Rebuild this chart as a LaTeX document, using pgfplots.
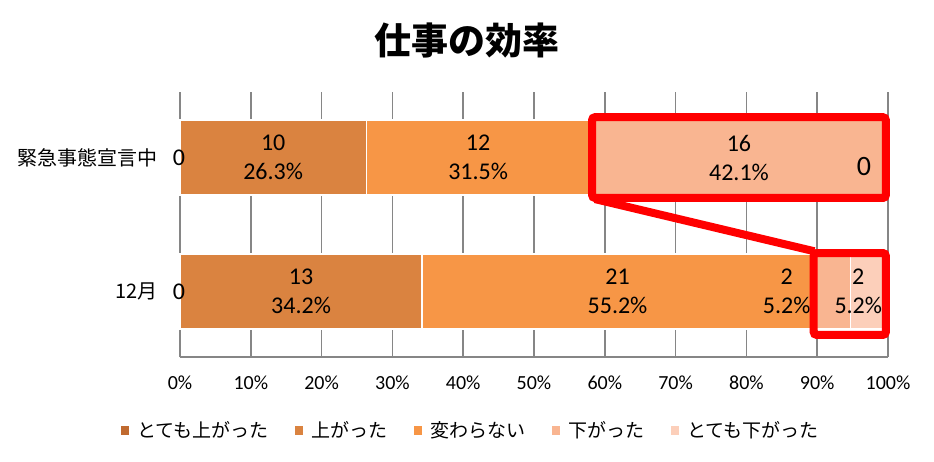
\documentclass[border=0pt]{standalone}
\usepackage{pgfplots}
\pgfplotsset{compat=1.18}
\usepackage{fontspec}
\setmainfont{Carlito}
\newfontfamily\jp{Noto Sans CJK JP}
\definecolor{c1}{RGB}{192,106,48}
\definecolor{c2}{RGB}{218,131,64}
\definecolor{c3}{RGB}{247,150,70}
\definecolor{c4}{RGB}{249,181,145}
\definecolor{c5}{RGB}{252,207,186}
\definecolor{gridc}{RGB}{134,134,134}
\tikzset{lbl/.style={align=center, font=\fontsize{24}{29}\selectfont}}
\begin{document}
\begin{tikzpicture}[x=1pt,y=1pt]
\path[use as bounding box] (0,0) rectangle (934,461);
\node[font=\jp\bfseries\fontsize{37}{40}\selectfont] at (467,421) {仕事の効率};
\begin{axis}[at={(180pt,104pt)}, anchor=south west, scale only axis,
  width=708pt, height=265pt,
  xbar stacked, bar width=0.56,
  xmin=0, xmax=100, ymin=-0.49, ymax=1.49,
  clip=false,
  axis x line*=bottom, axis y line*=left,
  axis line style={gridc, line width=1.5pt, -},
  major tick length=0pt,
  xmajorgrids, major grid style={gridc, line width=1.5pt},
  xtick={0,10,...,100},
  xticklabel={\pgfmathprintnumber{\tick}\%},
  /pgf/number format/assume math mode=true,
  xticklabel style={anchor=center, yshift=-26pt, font=\fontsize{20}{24}\selectfont},
  ytick={0,1}, yticklabels={12月,緊急事態宣言中},
  yticklabel style={anchor=east, inner sep=0pt, xshift=-22pt, font=\jp\fontsize{20}{24}\selectfont},
  legend columns=5,
  legend cell align=left,
  legend style={at={(0.411,-0.2755)}, anchor=center, draw=none, fill=none,
    font=\jp\fontsize{19}{22}\selectfont,
    /tikz/every even column/.append style={column sep=25pt}},
  every axis plot post/.append style={legend image code/.code={\fill[##1,draw=none] (0pt,-4.5pt) rectangle (8pt,4.5pt); \path[draw=none,fill=none] (0pt,0pt) -- (14pt,0pt);}},
]
\addplot[fill=c1, draw=none] coordinates {(0,0) (0,1)};
\addlegendentry{とても上がった}
\addplot[fill=c2, draw=white, line width=1.5pt] coordinates {(34.21,0) (26.32,1)};
\addlegendentry{上がった}
\addplot[fill=c3, draw=white, line width=1.5pt] coordinates {(55.26,0) (31.58,1)};
\addlegendentry{変わらない}
\addplot[fill=c4, draw=white, line width=1.5pt] coordinates {(5.26,0) (42.10,1)};
\addlegendentry{下がった}
\addplot[fill=c5, draw=white, line width=1.5pt] coordinates {(5.26,0) (0,1)};
\addlegendentry{とても下がった}

\coordinate (L1) at (axis cs:13.16,1);
\coordinate (L2) at (axis cs:42.11,1);
\coordinate (L3) at (axis cs:78.95,1);
\coordinate (L4) at (axis cs:-0.15,1);
\coordinate (L5) at (axis cs:17.1,0);
\coordinate (L6) at (axis cs:61.8,0);
\coordinate (L7) at (axis cs:85.7,0);
\coordinate (L8) at (axis cs:95.8,0);
\coordinate (L9) at (axis cs:-0.15,0);
\coordinate (L10) at (axis cs:96.6,0.93);
\coordinate (A1) at (axis cs:58.2,1.302);
\coordinate (A2) at (axis cs:99.7,0.698);
\coordinate (B1) at (axis cs:89.5,0.287);
\coordinate (B2) at (axis cs:99.7,-0.325);
\coordinate (C1) at (axis cs:58.6,0.69);
\coordinate (C2) at (axis cs:89.6,0.30);
\end{axis}
\node[lbl] at (L1) {10\\26.3\%};
\node[lbl] at (L2) {12\\31.5\%};
\node[lbl] at (L3) {16\\42.1\%};
\node[lbl] at (L4) {0};
\node[lbl] at (L5) {13\\34.2\%};
\node[lbl] at (L6) {21\\55.2\%};
\node[lbl] at (L7) {2\\5.2\%};
\node[lbl] at (L8) {2\\5.2\%};
\node[lbl] at (L9) {0};
\node[font=\fontsize{28}{32}\selectfont] at (L10) {0};
\draw[red, line width=8pt, rounded corners=3pt] (A1) rectangle (A2);
\draw[red, line width=8pt, rounded corners=3pt] (B1) rectangle (B2);
\draw[red, line width=8pt] (C1) -- (C2);
\end{tikzpicture}
\end{document}
